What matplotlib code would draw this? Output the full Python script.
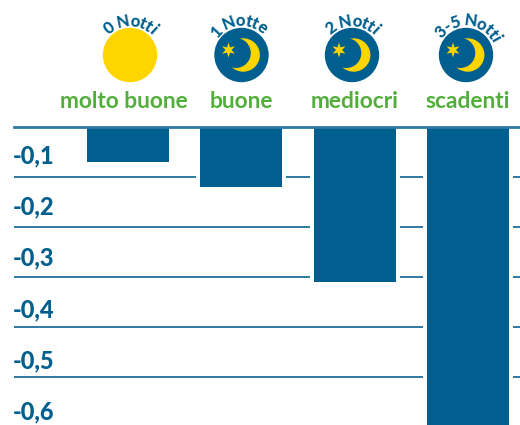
import math
import matplotlib
matplotlib.use("Agg")
import matplotlib.pyplot as plt
from matplotlib.patches import Circle, Polygon
from matplotlib.font_manager import FontProperties
from matplotlib.textpath import text_to_path
from matplotlib.transforms import ScaledTranslation

categories = ["molto buone", "buone", "mediocri", "scadenti"]
values = [-0.07, -0.12, -0.31, -0.60]
yticks = [-0.1, -0.2, -0.3, -0.4, -0.5, -0.6]
ytick_labels = ["-0,1", "-0,2", "-0,3", "-0,4", "-0,5", "-0,6"]
night_labels = ["0 Notti", "1 Notte", "2 Notti", "3-5 Notti"]
icon_x = [130, 241.5, 352, 466]
arc_shift_deg = [0, -6, 0, 5]

BLUE = "#005F8E"
LINE = "#2E7AA3"
GREEN = "#52AE3A"
YELLOW = "#FFD500"
W, H = 520, 425
plt.rcParams["font.family"] = ["Lato", "DejaVu Sans"]

fig = plt.figure(figsize=(W / 100, H / 100), dpi=100)
# axes spans pixel y 127 (value 0) down to 437 (value -0.62)
ax = fig.add_axes([14 / W, (H - 437) / H, (W - 14) / W, (437 - 127) / H])
ax.set_ylim(-0.62, 0)
ax.set_xlim((14 - 128) / 113.3, (520 - 128) / 113.3)

ax.bar(range(4), values, width=90 / 113.3, color="white", zorder=2)
ax.bar(range(4), values, width=82 / 113.3, color=BLUE, zorder=3)

for s in ["left", "right", "bottom"]:
    ax.spines[s].set_visible(False)
ax.spines["top"].set_color(LINE)
ax.spines["top"].set_linewidth(2.0)
ax.spines["top"].set_zorder(5)

ax.set_yticks(yticks)
ax.set_yticklabels(ytick_labels, fontsize=17, fontweight="black", color=BLUE, ha="left")
ax.tick_params(axis="y", length=0, pad=0)
ax.grid(axis="y", color=LINE, linewidth=1.4, zorder=1)
ax.set_axisbelow(True)
for i, lab in enumerate(ax.get_yticklabels()):
    offset = ScaledTranslation(-1 / 100, (23.5 - 1.33 * i) / 100, fig.dpi_scale_trans)
    lab.set_transform(lab.get_transform() + offset)

ax.xaxis.tick_top()
ax.set_xticks(range(4))
ax.set_xticklabels(categories, fontsize=16.4, fontweight="bold", color=GREEN)
ax.tick_params(axis="x", length=0, pad=11)
xshift = ScaledTranslation(-4 / 100, 0, fig.dpi_scale_trans)
ax.get_xticklabels()[0].set_transform(ax.get_xticklabels()[0].get_transform() + xshift)

# Icons and arched captions, in pixel coordinates of the figure
ov = fig.add_axes([0, 0, 1, 1], zorder=10)
ov.set_xlim(0, W)
ov.set_ylim(H, 0)
ov.axis("off")
cy = 55
R = 27.2
for i, (cx, lab) in enumerate(zip(icon_x, night_labels)):
    if i == 0:
        ov.add_patch(Circle((cx, cy), R, fc=YELLOW, ec="none"))
    else:
        ov.add_patch(Circle((cx, cy), R, fc=BLUE, ec="none"))
        ov.add_patch(Circle((cx + 1.7, cy), 16.7, fc=YELLOW, ec="none"))
        ov.add_patch(Circle((cx - 5.7, cy - 2), 15.0, fc=BLUE, ec="none"))
        star = []
        for k in range(12):
            rr = 7.5 if k % 2 == 0 else 3.0
            a = math.radians(30 * k + 90)
            star.append((cx - 13 + rr * math.cos(a), cy - 5 + rr * math.sin(a)))
        ov.add_patch(Polygon(star, fc=YELLOW, ec="none"))

    fp = FontProperties(family="Lato", weight="black", size=12)
    r_base = 29.0
    def adv(s):
        return text_to_path.get_text_width_height_descent(s, fp, False)[0] * 100 / 72
    total = adv(lab)
    for k, ch in enumerate(lab):
        mid = adv(lab[:k]) + adv(ch) / 2 - total / 2
        ang = mid / 33.0 + math.radians(arc_shift_deg[i])
        x = cx + r_base * math.sin(ang)
        y = cy - r_base * math.cos(ang)
        ov.text(x, y, ch, fontproperties=fp, color=BLUE, ha="center", va="baseline",
                rotation=-math.degrees(ang), rotation_mode="anchor")

fig.savefig("out.png", dpi=100)
